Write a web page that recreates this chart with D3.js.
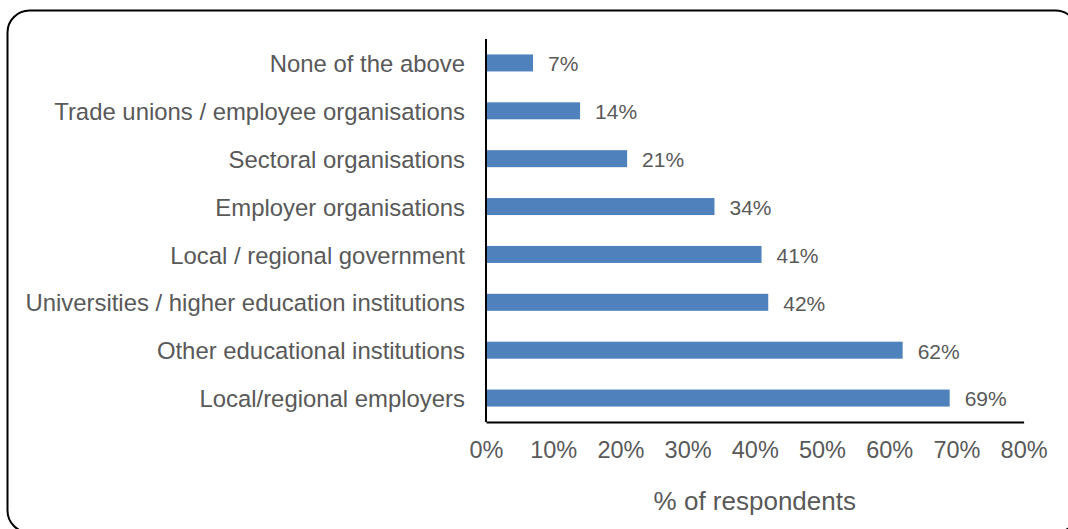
<!DOCTYPE html>
<html>
<head>
<meta charset="utf-8">
<script src="https://cdn.jsdelivr.net/npm/d3@7"></script>
<style>
  html, body { margin: 0; padding: 0; background: #fff; }
  svg { display: block; }
  text { font-family: "Liberation Sans", Arial, sans-serif; fill: #595959; }
</style>
</head>
<body>
<svg id="chart" width="1068" height="529"></svg>
<script>
// Share of respondents naming each partner type (top to bottom as drawn)
const categories = [
  "None of the above",
  "Trade unions / employee organisations",
  "Sectoral organisations",
  "Employer organisations",
  "Local / regional government",
  "Universities / higher education institutions",
  "Other educational institutions",
  "Local/regional employers"
];
const values = [7, 14, 21, 34, 41, 42, 62, 69];
const xTicks = [0, 10, 20, 30, 40, 50, 60, 70, 80];
const axisTitle = "% of respondents";

const svg = d3.select("#chart");

// Rounded frame around the chart area
svg.append("rect")
  .attr("x", 7.5).attr("y", 10.5)
  .attr("width", 1070).attr("height", 522)
  .attr("rx", 22).attr("ry", 22)
  .attr("fill", "none")
  .attr("stroke", "#000")
  .attr("stroke-width", 2);

const x0 = 486, x1 = 1023.6;
const x = d3.scaleLinear().domain([0, 80]).range([x0, x1]);
const y = d3.scaleBand()
  .domain(categories)
  .range([39, 422])
  .paddingInner(0.645)
  .paddingOuter(0.3225);

// Bars
svg.append("g").selectAll("rect")
  .data(categories)
  .join("rect")
  .attr("x", x(0))
  .attr("y", d => y(d))
  .attr("width", (d, i) => x(values[i]) - x(0))
  .attr("height", y.bandwidth())
  .attr("fill", "#4f81bd");

// Value labels
svg.append("g").selectAll("text")
  .data(categories)
  .join("text")
  .attr("x", (d, i) => x(values[i]) + 15)
  .attr("y", d => y(d) + y.bandwidth() / 2 + 1)
  .attr("dy", "0.35em")
  .style("font-size", "21px")
  .text((d, i) => values[i] + "%");

// Category axis
const yAxis = svg.append("g")
  .attr("transform", `translate(${x0},0)`)
  .call(d3.axisLeft(y).tickSize(0).tickPadding(21));
yAxis.select(".domain").attr("stroke", "#000").attr("stroke-width", 2)
  .attr("d", "M0,39V422");
yAxis.selectAll("text")
  .attr("dy", "0.38em")
  .style("font-size", "23.9px")
  .style("fill", "#595959")
  .style("font-family", '"Liberation Sans", Arial, sans-serif');

// Value axis
const xAxis = svg.append("g")
  .attr("transform", "translate(0,422)")
  .call(d3.axisBottom(x).tickValues(xTicks).tickFormat(d => d + "%").tickSize(0).tickPadding(19));
xAxis.select(".domain").attr("stroke", "#000").attr("stroke-width", 2);
xAxis.selectAll("text")
  .style("font-size", "23.5px")
  .style("fill", "#595959")
  .style("font-family", '"Liberation Sans", Arial, sans-serif');

// Axis title
svg.append("text")
  .attr("x", (x0 + x1) / 2)
  .attr("y", 501)
  .attr("dy", "0.35em")
  .attr("text-anchor", "middle")
  .style("font-size", "26px")
  .text(axisTitle);
</script>
</body>
</html>
